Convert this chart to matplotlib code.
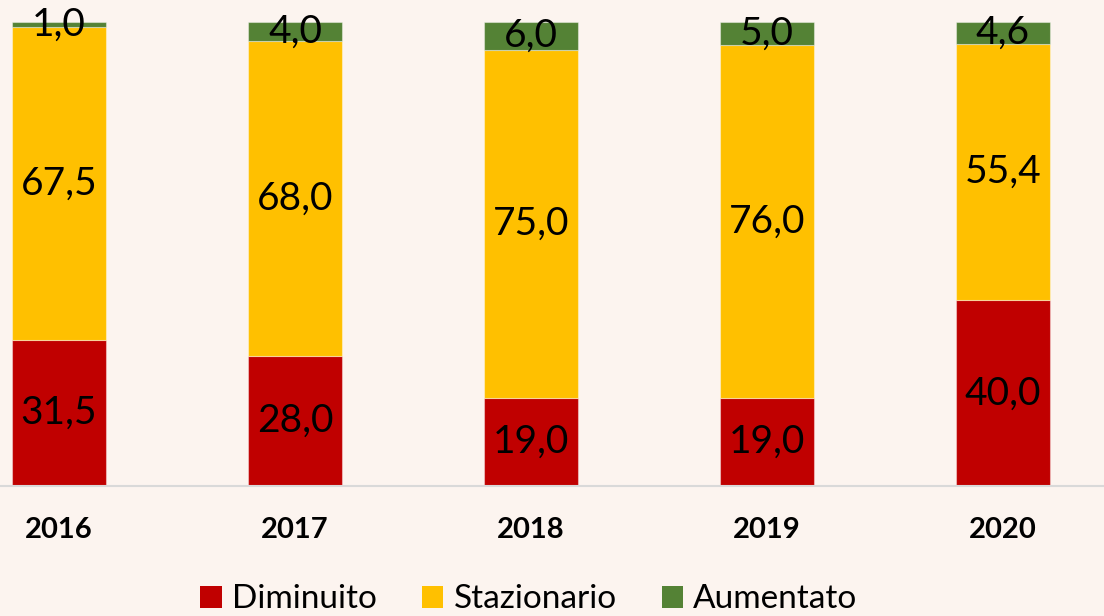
import numpy as np
import matplotlib.pyplot as plt
from matplotlib.patches import Patch

# dati
anni = ['2016', '2017', '2018', '2019', '2020']
diminuito = [31.5, 28.0, 19.0, 19.0, 40.0]
stazionario = [67.5, 68.0, 75.0, 76.0, 55.4]
aumentato = [1.0, 4.0, 6.0, 5.0, 4.6]

colori = ['#C00000', '#FFC000', '#548235']
nomi = ['Diminuito', 'Stazionario', 'Aumentato']
sfondo = '#FCF4EF'

plt.rcParams['font.family'] = ['Lato', 'DejaVu Sans']

fig = plt.figure(figsize=(11.04, 6.16), dpi=100, facecolor=sfondo)
ax = fig.add_axes([0, 0.211, 1, 0.753])
ax.set_facecolor(sfondo)

x = np.arange(len(anni))
base = np.zeros(len(anni))
for serie, col in zip([diminuito, stazionario, aumentato], colori):
    serie = np.array(serie)
    ax.bar(x, serie, bottom=base, width=0.4, color=col,
           edgecolor=(1, 1, 1, 0.4), linewidth=0.8)
    for xi, b, v in zip(x, base, serie):
        ax.text(xi, b + v / 2, f'{v:.1f}'.replace('.', ','),
                ha='center', va='center', fontsize=28, color='black')
    base = base + serie

ax.set_xlim(-0.25, 4.428)
ax.set_ylim(0, 100)
ax.set_xticks(x)
ax.set_xticklabels(anni, fontsize=21, fontweight='bold')
ax.tick_params(axis='x', length=0, pad=22)
ax.set_yticks([])
for s in ['top', 'right', 'left']:
    ax.spines[s].set_visible(False)
ax.spines['bottom'].set_color('#D9D9D9')
ax.spines['bottom'].set_linewidth(1.5)

maniglie = [Patch(facecolor=c, edgecolor='none') for c in colori]
fig.legend(maniglie, nomi, loc='center', bbox_to_anchor=(0.479, 0.027),
           ncol=3, frameon=False, fontsize=24, handlelength=0.65,
           handleheight=0.65, handletextpad=0.3, columnspacing=1.35)

fig.savefig('out.png', dpi=100, facecolor=sfondo)
